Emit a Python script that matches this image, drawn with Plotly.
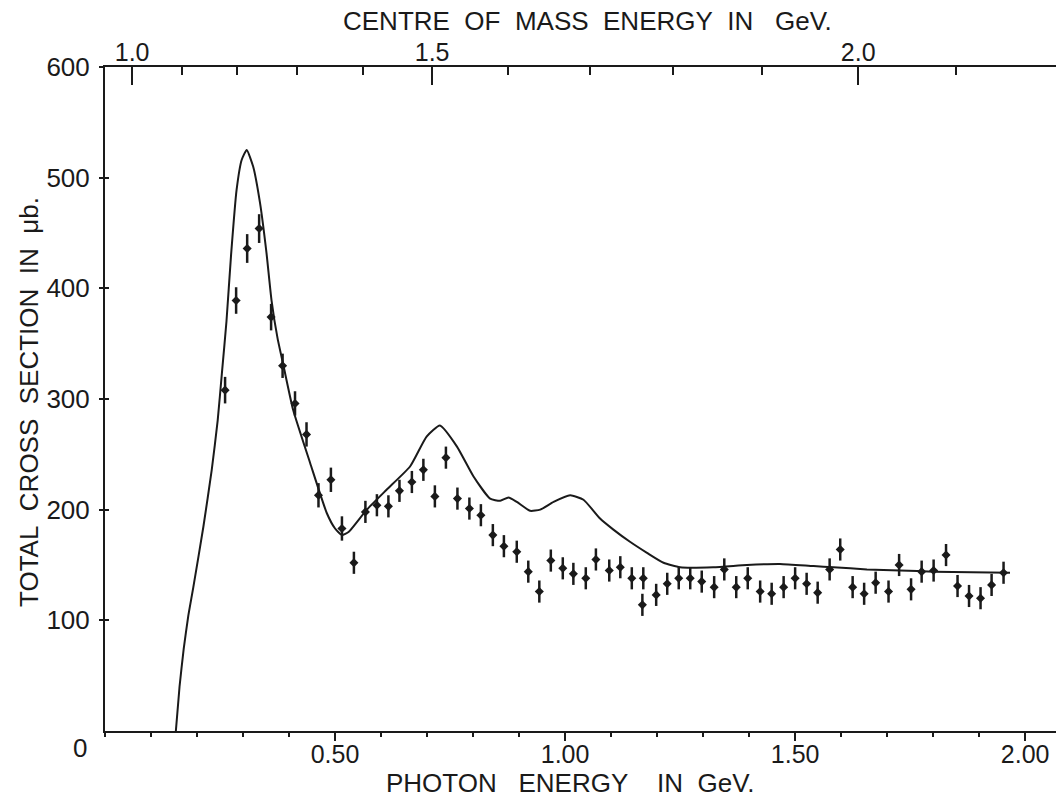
import plotly.graph_objects as go

# ---------------- data ----------------
photon_E = [0.261, 0.285, 0.309, 0.335, 0.361, 0.386, 0.413, 0.438, 0.464, 0.491,
            0.515, 0.541, 0.566, 0.591, 0.616, 0.640, 0.667, 0.692, 0.717, 0.741,
            0.766, 0.792, 0.817, 0.843, 0.867, 0.895, 0.920, 0.944, 0.969, 0.995,
            1.018, 1.045, 1.067, 1.096, 1.120, 1.145, 1.170, 1.168, 1.198, 1.222,
            1.247, 1.272, 1.297, 1.324, 1.346, 1.372, 1.397, 1.424, 1.449, 1.475,
            1.500, 1.525, 1.549, 1.575, 1.598, 1.625, 1.650, 1.675, 1.703, 1.726,
            1.752, 1.775, 1.801, 1.828, 1.853, 1.878, 1.903, 1.927, 1.953]
sigma = [308, 389, 436, 454, 374, 330, 296, 268, 213, 227,
         183, 152, 198, 204, 203, 217, 225, 236, 212, 247,
         210, 201, 195, 177, 167, 162, 144, 126, 154, 147,
         142, 138, 155, 145, 148, 138, 138, 114, 123, 133,
         138, 138, 135, 130, 146, 130, 138, 126, 124, 130,
         138, 133, 125, 146, 164, 130, 124, 134, 126, 150,
         128, 144, 145, 159, 131, 122, 120, 132, 143]
sigma_err = [12, 12, 13, 13, 12, 11, 11, 11, 11, 11,
             11, 10, 10, 10, 10, 10, 10, 10, 10, 10,
             10, 10, 10, 10, 10, 10, 10, 10, 10, 10,
             10, 10, 10, 10, 10, 10, 10, 10, 10, 10,
             10, 10, 10, 10, 10, 10, 10, 10, 10, 10,
             10, 10, 10, 10, 10, 10, 10, 10, 10, 10,
             10, 10, 10, 10, 10, 10, 10, 10, 10]

curve_E = [0.154, 0.162, 0.171, 0.181, 0.192, 0.214, 0.232, 0.245, 0.254, 0.264,
           0.274, 0.286, 0.297, 0.308, 0.322, 0.337, 0.351, 0.362, 0.375, 0.388,
           0.409, 0.446, 0.482, 0.500, 0.515, 0.530, 0.569, 0.612, 0.663, 0.699,
           0.728, 0.765, 0.801, 0.837, 0.859, 0.877, 0.895, 0.924, 0.946, 0.975,
           1.011, 1.040, 1.076, 1.105, 1.141, 1.178, 1.214, 1.250, 1.322, 1.395,
           1.467, 1.540, 1.583, 1.656, 1.728, 1.801, 1.967]
curve_sigma = [0, 40, 74, 104, 130, 185, 236, 281, 323, 370,
               430, 489, 516, 525, 510, 477, 432, 389, 355, 330,
               290, 242, 197, 183, 177, 180, 200, 218, 239, 266,
               276, 257, 230, 210, 208, 211, 207, 199, 200, 207,
               213, 209, 192, 182, 171, 161, 152, 148, 148, 150,
               151, 149, 148, 146, 145, 144, 143]

bottom_tick_vals = [0.5, 1.0, 1.5, 2.0]
bottom_tick_text = ["0.50", "1.00", "1.50", "2.00"]
y_tick_vals = [100, 200, 300, 400, 500, 600]
y_tick_text = ["100", "200", "300", "400", "500", "600"]
# centre-of-mass energy ticks (positions in photon energy, as drawn)
top_major_pos = [0.059, 0.711, 1.637]
top_major_text = ["1.0", "1.5", "2.0"]
top_minor_pos = [0.167, 0.287, 0.417, 0.561, 0.876, 1.054, 1.235, 1.428, 1.850]

# ---------------- figure ----------------
INK = "#1a1a1a"
FONT = "Liberation Sans"
XR = [0, 2.067]
YR = [0, 600]

fig = go.Figure()

fig.add_trace(go.Scatter(
    x=curve_E, y=curve_sigma, mode="lines",
    line=dict(color=INK, width=2, shape="spline", smoothing=0.5),
    hoverinfo="skip", showlegend=False))

fig.add_trace(go.Scatter(
    x=photon_E, y=sigma, mode="markers",
    marker=dict(symbol="diamond", size=7, color=INK),
    error_y=dict(type="data", array=sigma_err, visible=True,
                 thickness=2.5, width=0, color=INK),
    showlegend=False))

# invisible trace carrying the top / inner-tick axes
fig.add_trace(go.Scatter(x=[None], y=[None], xaxis="x2", yaxis="y2",
                         showlegend=False, hoverinfo="skip"))

nb = "\u00a0"

fig.update_layout(
    width=1056, height=797,
    margin=dict(l=105, r=0, t=67, b=66),
    paper_bgcolor="white", plot_bgcolor="white",
    font=dict(family=FONT, size=26, color=INK),
    xaxis=dict(range=XR, showgrid=False, zeroline=False,
               showline=True, linewidth=2, linecolor=INK,
               tickmode="array", tickvals=bottom_tick_vals, ticktext=bottom_tick_text,
               ticks="outside", ticklen=8, tickwidth=2, tickcolor=INK,
               ticklabelstandoff=-8, tickfont=dict(size=25),
               minor=dict(dtick=0.1, tick0=0, ticks="outside", ticklen=4,
                          tickwidth=2, tickcolor=INK, showgrid=False)),
    yaxis=dict(range=YR, showgrid=False, zeroline=False,
               showline=True, linewidth=2, linecolor=INK,
               tickmode="array", tickvals=y_tick_vals, ticktext=y_tick_text,
               ticks="outside", ticklen=4, tickwidth=2, tickcolor=INK,
               ticklabelstandoff=4, tickfont=dict(size=26)),
    xaxis2=dict(range=XR, overlaying="x", side="top", anchor="y2",
                showgrid=False, zeroline=False,
                showline=True, linewidth=2, linecolor=INK,
                tickmode="array", tickvals=top_major_pos, ticktext=top_major_text,
                ticks="inside", ticklen=18, tickwidth=2, tickcolor=INK,
                ticklabelstandoff=-6, tickfont=dict(size=25),
                minor=dict(tickvals=top_minor_pos, ticks="inside", ticklen=8,
                           tickwidth=2, tickcolor=INK, showgrid=False)),
    yaxis2=dict(range=YR, overlaying="y", side="left", anchor="x",
                showgrid=False, zeroline=False, showline=False,
                tickmode="array", tickvals=y_tick_vals,
                ticks="inside", ticklen=4, tickwidth=2, tickcolor=INK,
                showticklabels=False),
    annotations=[
        dict(text=f"CENTRE{nb*2}OF{nb*2}MASS{nb*2}ENERGY{nb*2}IN{nb*3}GeV.",
             xref="paper", yref="paper", x=0.507, y=1.0693,
             xanchor="center", yanchor="middle", showarrow=False,
             font=dict(size=26)),
        dict(text=f"PHOTON{nb*3}ENERGY{nb*4}IN{nb*2}GeV.",
             xref="paper", yref="paper", x=0.489, y=-0.0783,
             xanchor="center", yanchor="middle", showarrow=False,
             font=dict(size=26)),
        dict(text=f"TOTAL{nb*2}CROSS{nb*2}SECTION{nb*2}IN{nb*2}\u03bcb.",
             xref="paper", yref="paper", x=-0.0799, y=0.4955,
             xanchor="center", yanchor="middle", showarrow=False,
             textangle=-90, font=dict(size=26)),
        dict(text="0", xref="paper", yref="paper", x=-0.0263, y=-0.0256,
             xanchor="center", yanchor="middle", showarrow=False,
             font=dict(size=26)),
    ],
)

fig.write_html("out.html")
